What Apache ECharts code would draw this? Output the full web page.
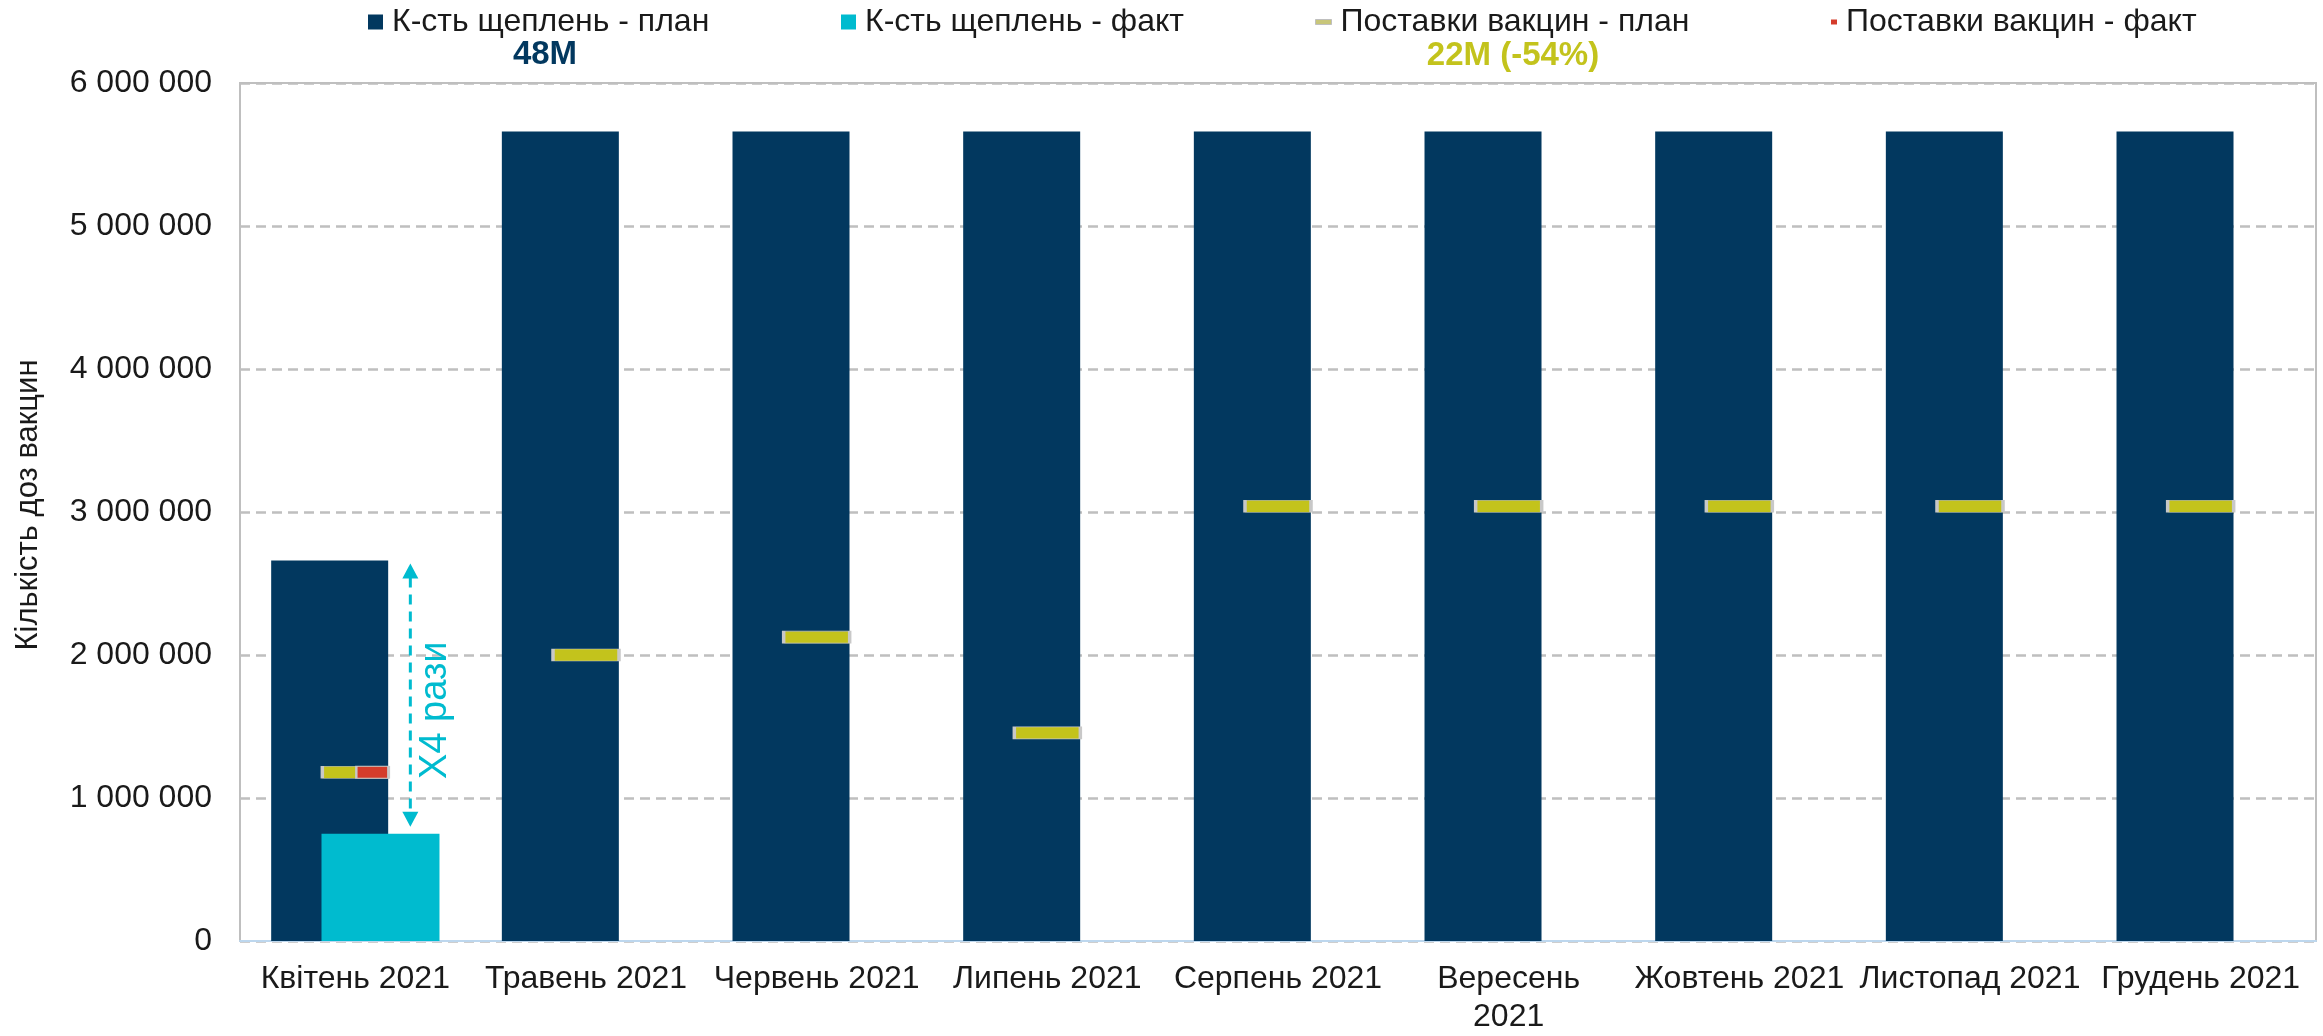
<!DOCTYPE html>
<html>
<head>
<meta charset="utf-8">
<title>Щеплення та поставки вакцин</title>
<script src="https://cdn.jsdelivr.net/npm/echarts@6/dist/echarts.min.js"></script>
<style>
  html, body { margin: 0; padding: 0; background: #fff; }
  #chart { width: 2323px; height: 1036px; }
</style>
</head>
<body>
<div id="chart"></div>
<script>
// data
const months = ["Квітень 2021", "Травень 2021", "Червень 2021", "Липень 2021", "Серпень 2021",
  "Вересень 2021", "Жовтень 2021", "Листопад 2021", "Грудень 2021"];
const planDoses = [2660000, 5660000, 5660000, 5660000, 5660000, 5660000, 5660000, 5660000, 5660000];
const factDoses = [750000, null, null, null, null, null, null, null, null];
const planDeliveries = [1180000, 2000000, 2125000, 1455000, 3040000, 3040000, 3040000, 3040000, 3040000];
const factDeliveries = [1180000, null, null, null, null, null, null, null, null];
const yMax = 6000000;
const yStep = 1000000;

const names = ["К-сть щеплень - план", "К-сть щеплень - факт", "Поставки вакцин - план", "Поставки вакцин - факт"];
const navy = "#02385f";
const cyan = "#00bbcf";
const olive = "#c3c31c";
const red = "#d43c2b";
const font = "Liberation Sans";

const chart = echarts.init(document.getElementById("chart"));

function legendAt(left, name, w, h, style) {
  return {
    left: left,
    top: 6,
    padding: 0,
    itemWidth: w,
    itemHeight: h,
    selectedMode: false,
    data: [{ name: name, icon: "rect", itemStyle: style }],
    textStyle: { fontFamily: font, fontSize: 32, lineHeight: 32, color: "#1a1a1a", padding: [0, 0, 0, 4] }
  };
}

const option = {
  animation: false,
  backgroundColor: "#fff",
  grid: {
    left: 240, right: 7, top: 83, bottom: 88,
    show: true, borderColor: "#bfbfbf", borderWidth: 2
  },
  legend: [
    legendAt(368, names[0], 15, 15, { color: navy, borderWidth: 0 }),
    legendAt(841, names[1], 15, 15, { color: cyan, borderWidth: 0 }),
    legendAt(1315, names[2], 16, 5, { color: "#c8c67a", borderColor: "#bfbfbf", borderWidth: 1 }),
    legendAt(1831, names[3], 6, 5, { color: red, borderWidth: 0 })
  ],
  xAxis: {
    type: "category",
    data: months,
    axisLine: { lineStyle: { color: "#bdd7ee", width: 2 } },
    axisTick: { show: false },
    axisLabel: {
      fontFamily: font, fontSize: 32, lineHeight: 38, color: "#1a1a1a", margin: 19,
      interval: 0,
      formatter: v => v === "Вересень 2021" ? "Вересень\n2021" : v
    }
  },
  yAxis: {
    type: "value",
    min: 0, max: yMax, interval: yStep,
    name: "Кількість доз вакцин",
    nameLocation: "middle",
    nameRotate: 90,
    nameGap: 196,
    nameTextStyle: { fontFamily: font, fontSize: 31, color: "#1a1a1a", padding: [0, 0, 0, 14] },
    axisLine: { show: true, lineStyle: { color: "#bfbfbf", width: 2 } },
    axisTick: { show: false },
    axisLabel: {
      fontFamily: font, fontSize: 32, color: "#1a1a1a", margin: 28,
      formatter: v => String(v).replace(/\B(?=(\d{3})+(?!\d))/g, " ")
    },
    splitLine: { lineStyle: { color: "#bfbfbf", width: 2.5, type: [10, 6] } }
  },
  series: [
    {
      name: names[0], type: "bar", data: planDoses,
      barWidth: 117, barGap: "-57%",
      itemStyle: { color: navy }
    },
    {
      name: names[1], type: "bar", data: factDoses,
      barWidth: 118,
      itemStyle: { color: cyan }
    },
    {
      name: names[2], type: "scatter", data: planDeliveries,
      symbol: "rect", symbolSize: [66, 12],
      itemStyle: { color: olive, borderColor: "#c8c8c8", borderWidth: 1.5, opacity: 1 }
    },
    {
      name: names[3], type: "scatter", data: factDeliveries,
      symbol: "rect", symbolSize: [32, 12], symbolOffset: [17, 0],
      itemStyle: { color: red, borderColor: "#c8c8c8", borderWidth: 1.5, opacity: 1 }
    }
  ]
};

chart.setOption(option);

// annotation: arrow between fact and plan of the first month
const xc = chart.convertToPixel({ xAxisIndex: 0 }, months[0]);
const yTop = chart.convertToPixel({ yAxisIndex: 0 }, planDoses[0]) + 3;
const yBot = chart.convertToPixel({ yAxisIndex: 0 }, factDoses[0]) - 7;
const ax = xc + 55;

chart.setOption({
  graphic: [
    {
      type: "line",
      shape: { x1: ax, y1: yTop + 14, x2: ax, y2: yBot - 14 },
      style: { stroke: cyan, lineWidth: 3, lineDash: [10, 7] }
    },
    {
      type: "polygon",
      shape: { points: [[ax, yTop], [ax - 8, yTop + 15], [ax + 8, yTop + 15]] },
      style: { fill: cyan }
    },
    {
      type: "polygon",
      shape: { points: [[ax, yBot], [ax - 8, yBot - 15], [ax + 8, yBot - 15]] },
      style: { fill: cyan }
    },
    {
      type: "text",
      x: ax + 25, y: (yTop + yBot) / 2 + 15,
      rotation: Math.PI / 2,
      style: {
        text: "Х4 рази", fill: cyan, font: '38px "Liberation Sans"',
        align: "center", verticalAlign: "middle"
      }
    },
    {
      type: "text", x: 545, y: 55,
      style: { text: "48M", fill: navy, font: 'bold 33px "Liberation Sans"', align: "center", verticalAlign: "middle" }
    },
    {
      type: "text", x: 1513, y: 56,
      style: { text: "22M (-54%)", fill: olive, font: 'bold 33px "Liberation Sans"', align: "center", verticalAlign: "middle" }
    }
  ]
});
</script>
</body>
</html>
